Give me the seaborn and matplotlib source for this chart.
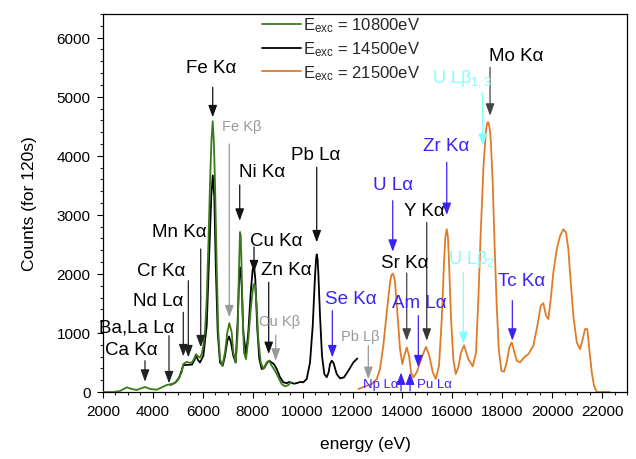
import matplotlib
matplotlib.use('Agg')
import matplotlib.pyplot as plt
import pandas as pd
import seaborn as sns
from matplotlib.ticker import MultipleLocator
from matplotlib.lines import Line2D

# ---------------- data ----------------
green_E = [2010, 2410, 2680, 2950, 3150, 3350, 3683, 3884, 4152, 4353, 4553, 4818,
           4978, 5154, 5218, 5355, 5419, 5555, 5650, 5727, 5810, 5888, 5960, 6020,
           6090, 6156, 6230, 6289, 6345, 6397, 6440, 6489, 6525, 6557, 6621, 6689,
           6782, 6890, 6982, 7062, 7158, 7222, 7319, 7399, 7451, 7491, 7520, 7543,
           7599, 7651, 7731, 7824, 7932, 8024, 8060, 8092, 8160, 8224, 8321, 8425,
           8561, 8653, 8761, 8894, 9026, 9162, 9295, 9427, 9523]
green_C = [0, 0, 17, 79, 51, 34, 85, 51, 39, 79, 118, 141,
           191, 333, 473, 512, 500, 495, 560, 640, 600, 585, 650, 780,
           1050, 1570, 2600, 3540, 4250, 4585, 4250, 3540, 2800, 2135, 1010, 557,
           445, 670, 1010, 1166, 1010, 670, 500, 1010, 2135, 2710, 2650, 2305,
           1290, 670, 557, 895, 1460, 1800, 1830, 1800, 1460, 895, 500, 390,
           500, 530, 445, 360, 248, 135, 96, 118, 164]

black_E = [4700, 4900, 5050, 5150, 5218, 5407, 5567, 5650, 5727, 5810, 5888, 6020,
           6156, 6240, 6340, 6400, 6460, 6520, 6597, 6689, 6797, 6890, 6982, 7050,
           7130, 7222, 7319, 7399, 7463, 7503, 7559, 7623, 7731, 7824, 7920, 8000,
           8052, 8104, 8184, 8264, 8361, 8465, 8585, 8665, 8761, 8854, 8962, 9094,
           9226, 9363, 9460, 9563, 9660, 9763, 9900, 10028, 10164, 10297, 10405, 10497,
           10540, 10565, 10600, 10629, 10697, 10777, 10870, 10966, 11040, 11098, 11166, 11230,
           11270, 11367, 11499, 11659, 11832, 12032, 12192]
black_C = [120, 160, 240, 360, 455, 460, 465, 530, 610, 540, 500, 613,
           1120, 2135, 3320, 3667, 3320, 2135, 1010, 500, 445, 613, 867, 940,
           840, 613, 500, 1234, 2023, 2107, 1796, 1010, 630, 1010, 1685, 2080,
           2135, 1910, 1065, 557, 390, 410, 500, 530, 500, 470, 390, 250,
           164, 150, 170, 155, 140, 150, 170, 164, 220, 500, 1120, 1965,
           2250, 2330, 2250, 2023, 1290, 613, 304, 250, 330, 473, 530, 500,
           445, 304, 231, 248, 360, 500, 568]

orange_E = [12233, 12501, 12769, 12970, 13102, 13234, 13371, 13503, 13560, 13611, 13660, 13703,
            13796, 13904, 13996, 14076, 14172, 14265, 14345, 14437, 14573, 14774, 14946, 15078,
            15215, 15335, 15467, 15575, 15667, 15720, 15776, 15825, 15868, 15948, 16040, 16136,
            16241, 16349, 16469, 16641, 16817, 16950, 17042, 17138, 17249, 17351, 17400, 17443,
            17490, 17539, 17619, 17699, 17779, 17860, 17964, 18072, 18180, 18284, 18380, 18473,
            18581, 18713, 18874, 19046, 19247, 19407, 19543, 19647, 19756, 19848, 19944, 20048,
            20184, 20317, 20449, 20558, 20650, 20746, 20850, 20986, 21118, 21226, 21318, 21410,
            21490, 21587, 21679, 21787, 22300]
orange_C = [50, 96, 135, 220, 390, 783, 1347, 1854, 1980, 2006, 1960, 1854,
            1347, 727, 473, 613, 755, 613, 333, 248, 333, 586, 766, 613,
            333, 220, 445, 1234, 2192, 2620, 2755, 2620, 2192, 1234, 557, 304,
            417, 670, 790, 557, 434, 670, 1572, 2699, 3825, 4445, 4560, 4568,
            4480, 4276, 3544, 2417, 1459, 727, 360, 343, 502, 755, 840, 698,
            530, 502, 586, 642, 783, 1120, 1459, 1504, 1290, 1234, 1572, 2023,
            2417, 2642, 2755, 2699, 2417, 1854, 1290, 840, 727, 896, 1065, 1065,
            727, 333, 106, 0, 0]

series_names = ['10800', '14500', '21500']
series_colors = ['#3b7a1b', '#000000', '#e07b28']
legend_labels = [r'E$_{exc}$ = 10800eV', r'E$_{exc}$ = 14500eV', r'E$_{exc}$ = 21500eV']

# peak labels: text, x (eV), y (counts), colour, size
lab_text = ['Fe Kα', 'Fe Kβ', 'Ni Kα', 'Cu Kα', 'Zn Kα', 'Cu Kβ', 'Pb Lα', 'Se Kα',
            'Pb Lβ', 'Mn Kα', 'Cr Kα', 'Nd Lα', 'Ba,La Lα', 'Ca Kα', 'Np Lα', 'Pu Lα',
            'Am Lα', 'Sr Kα', 'Y Kα', 'U Lα', 'Zr Kα', r'U Lβ$_2$', 'Tc Kα', 'Mo Kα',
            r'U Lβ$_{1,3}$']
lab_x = [6330, 7560, 8373, 8962, 9335, 9094, 10537, 11920,
         12301, 5046, 4325, 4216, 3363, 3122, 13142, 15266,
         14677, 14084, 14866, 13635, 15748, 16749, 18781, 18581,
         16389]
lab_y = [5500, 4508, 3733, 2573, 2074, 1202, 4029, 1591,
         953, 2709, 2065, 1546, 1095, 728, 127, 127,
         1507, 2201, 3069, 3521, 4182, 2252, 1896, 5705,
         5316]
BLK, GRY, BLU, CYN = '#000000', '#999999', '#3a22f5', '#80ffff'
lab_color = [BLK, GRY, BLK, BLK, BLK, GRY, BLK, BLU,
             GRY, BLK, BLK, BLK, BLK, BLK, BLU, BLU,
             BLU, BLK, BLK, BLU, BLU, CYN, BLU, BLK,
             CYN]
lab_size = [13.5, 10.5, 13.5, 13.5, 13.5, 10.5, 13.5, 13.5,
            10.5, 13.5, 13.5, 13.5, 13.5, 13.5, 9.5, 9.5,
            13.5, 13.5, 13.5, 13.5, 13.5, 13, 13.5, 13.5,
            13]

# arrows: x (eV), start counts, tip counts, colour
arr_x = [6397, 7062, 7479, 8052, 8641, 8922, 10565, 11190, 12633, 5916, 5419, 5218,
         4645, 3683, 13944, 14305, 14637, 14172, 14974, 13611, 15776, 16441, 18405, 17511,
         17218]
arr_y0 = [5159, 4199, 3505, 2455, 1857, 965, 3804, 1376, 784, 2421, 1884, 1349,
          953, 530, 17, 17, 1292, 2015, 2873, 3239, 3889, 2027, 1546, 5497,
          5074]
arr_y1 = [4651, 1265, 2900, 2027, 643, 530, 2534, 587, 220, 757, 587, 604,
          147, 174, 330, 330, 418, 869, 869, 2375, 2997, 813, 869, 4678,
          4170]
arr_color = ['#111111', GRY, '#111111', '#111111', '#111111', GRY, '#111111', BLU,
             GRY, '#222222', '#222222', '#222222', '#222222', '#222222', BLU, BLU,
             BLU, '#444444', '#333333', BLU, BLU, CYN, BLU, '#444444',
             CYN]

# ---------------- plotting ----------------
sns.set_theme(style='ticks')
plt.rcParams['font.family'] = ['Liberation Sans', 'DejaVu Sans']
plt.rcParams['mathtext.fontset'] = 'custom'
plt.rcParams['mathtext.rm'] = 'Liberation Sans'
plt.rcParams['mathtext.it'] = 'Liberation Sans:italic'
plt.rcParams['mathtext.default'] = 'regular'

df = pd.concat([
    pd.DataFrame({'energy': green_E, 'counts': green_C, 'exc': series_names[0]}),
    pd.DataFrame({'energy': black_E, 'counts': black_C, 'exc': series_names[1]}),
    pd.DataFrame({'energy': orange_E, 'counts': orange_C, 'exc': series_names[2]}),
], ignore_index=True)

fig, ax = plt.subplots(figsize=(6.36, 4.6), dpi=100)
fig.subplots_adjust(left=103/636, right=627/636, top=1-15/460, bottom=1-393/460)

sns.lineplot(data=df, x='energy', y='counts', hue='exc', hue_order=series_names,
             palette=series_colors, estimator=None, sort=False, linewidth=1.3,
             legend=False, ax=ax)
ax.lines[0].set_zorder(2.6)

ax.set_xlim(2000, 23000)
ax.set_ylim(0, 6400)
ax.xaxis.set_major_locator(MultipleLocator(2000))
ax.xaxis.set_minor_locator(MultipleLocator(500))
ax.yaxis.set_major_locator(MultipleLocator(1000))
ax.yaxis.set_minor_locator(MultipleLocator(200))
ax.tick_params(which='major', direction='out', length=4, width=0.8, labelsize=11,
               colors='#000000', top=False, right=False)
ax.tick_params(which='minor', direction='out', length=2.5, width=0.8, top=False, right=False)
ax.tick_params(axis='x', which='major', pad=4.5)
ax.tick_params(axis='y', which='major', pad=5)
for sp in ax.spines.values():
    sp.set_visible(True)
    sp.set_color('#000000')
    sp.set_linewidth(0.9)
ax.set_xlabel('energy (eV)', fontsize=12.5, color='#000000', labelpad=13)
ax.set_ylabel('Counts (for 120s)', fontsize=12.5, color='#000000', labelpad=14)

for x, y0, y1, c in zip(arr_x, arr_y0, arr_y1, arr_color):
    ax.annotate('', xy=(x, y1), xytext=(x, y0),
                arrowprops=dict(arrowstyle='-|>,head_length=0.6,head_width=0.22',
                                color=c, lw=0.9, shrinkA=0, shrinkB=0, mutation_scale=12),
                zorder=4)
for s, x, y, c, fs in zip(lab_text, lab_x, lab_y, lab_color, lab_size):
    ax.text(x, y, s, ha='center', va='center', color=c, fontsize=fs, zorder=5)

handles = [Line2D([], [], color=c, lw=1.3) for c in series_colors]
ax.legend(handles, legend_labels, loc='upper left', bbox_to_anchor=(0.301, 1.0),
          frameon=False, fontsize=12, handlelength=2.3, handletextpad=0.15,
          labelspacing=0.3, borderaxespad=0, borderpad=0.1)

fig.savefig('out.png', dpi=100)
